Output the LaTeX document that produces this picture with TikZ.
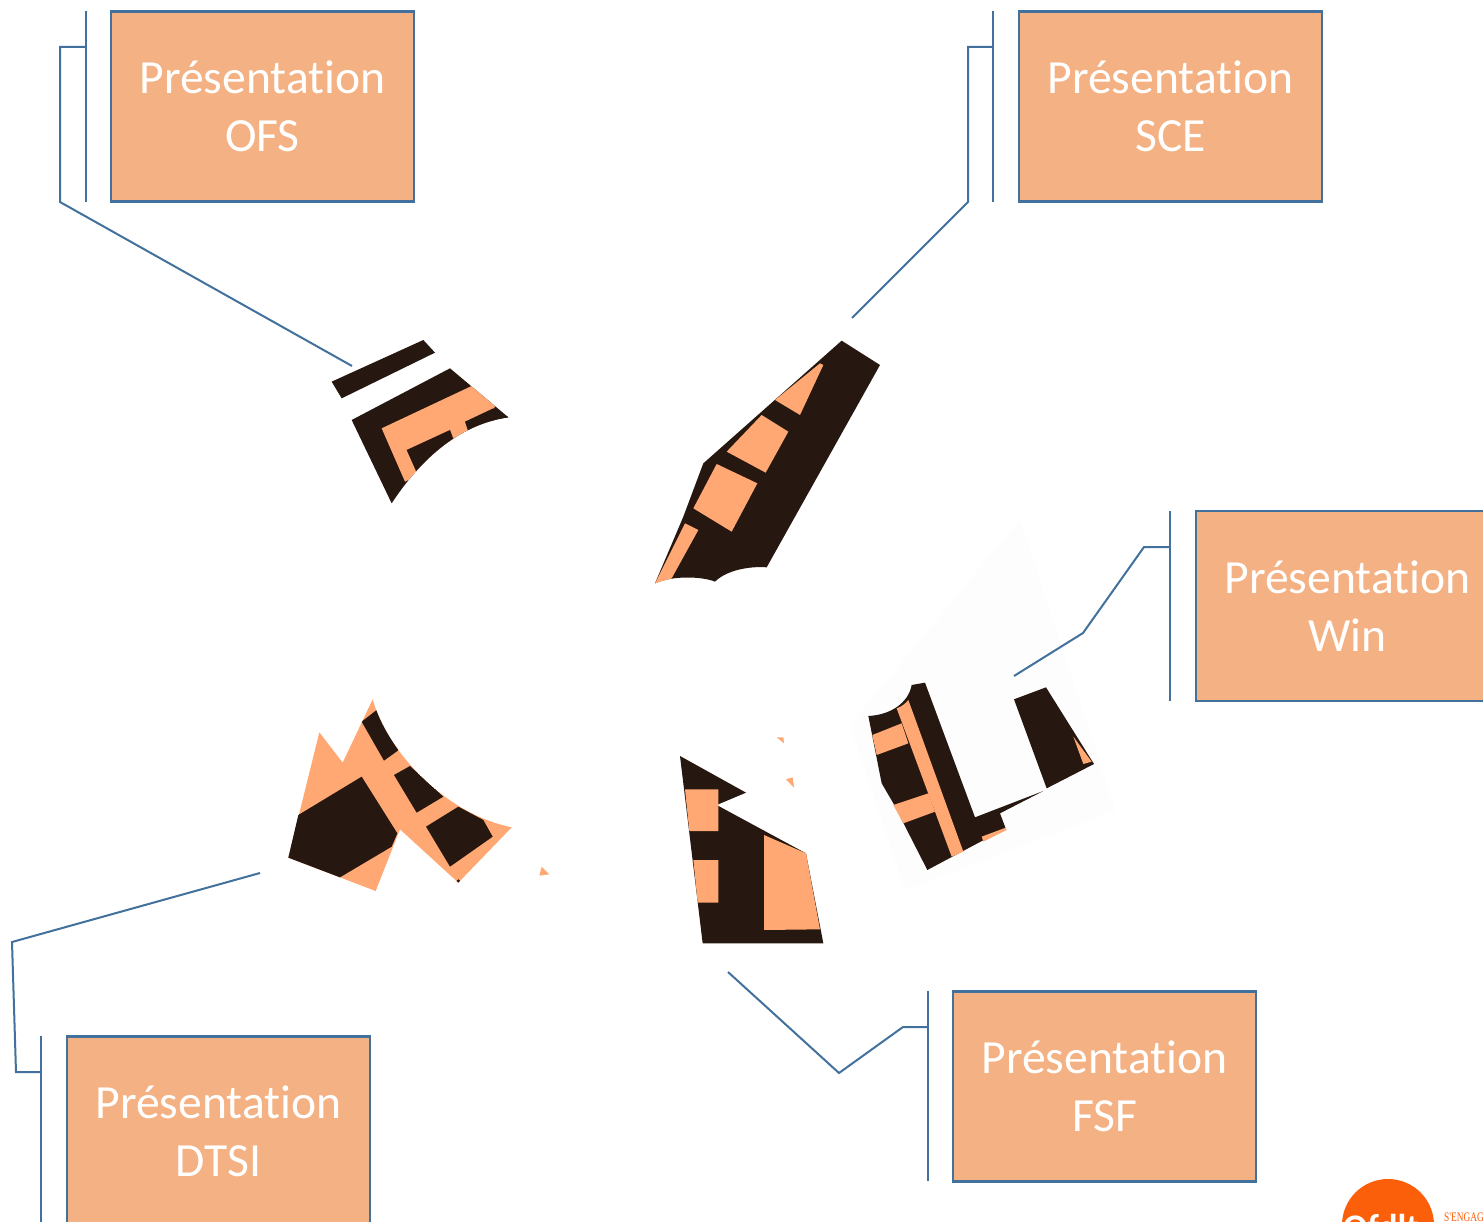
\documentclass[tikz,border=0pt]{standalone}
\usepackage{fontspec}
\setmainfont{Carlito}[Ligatures=NoCommon]
\newfontfamily\logofont{Liberation Serif}
\definecolor{linecol}{HTML}{41719C}
\definecolor{boxfill}{HTML}{F4B183}
\definecolor{darkpic}{HTML}{261810}
\definecolor{orangepic}{HTML}{FFA873}
\definecolor{logocol}{HTML}{FC5F0A}
\definecolor{faintbg}{HTML}{FDFDFD}
\tikzset{
  slidebox/.style={draw=linecol,line width=2.2pt,fill=boxfill,minimum width=303pt,minimum height=190pt,inner sep=0pt,
    text=white,align=center,font=\fontsize{47.6}{57.5}\selectfont},
  callout/.style={draw=linecol,line width=2pt,line join=miter},
  dk/.style={fill=darkpic},
  og/.style={fill=orangepic},
  faint/.style={fill=faintbg},
  zoomA/.style={shift={(280,280)},scale=0.33333},
  zoomB/.style={shift={(620,320)},scale=0.33333},
  zoomC/.style={shift={(840,660)},scale=0.33333},
  zoomD/.style={shift={(650,720)},scale=0.33333},
  zoomE/.style={shift={(270,690)},scale=0.33333},
}
\begin{document}
\begin{tikzpicture}[x=1pt,y=-1pt]
\useasboundingbox (0,0) rectangle (1483,1222);
\clip (0,0) rectangle (1483,1222);
\fill[white] (0,0) rectangle (1483,1222);
% faint halo of the Win picture
\fill[faint] (850,725) -- (1020,520) -- (1115,810) -- (905,890) -- cycle;
% OFS picture
\begin{scope}[zoomA]
  \fill[dk] (155,305) -- (430,180) -- (465,218) -- (185,355) -- cycle;
  \fill[dk] (215,420) -- (510,265) -- (685,412) .. controls (560,430) and (440,510) .. (335,670) -- cycle;
  \begin{scope}
    \clip (215,420) -- (510,265) -- (685,412) .. controls (560,430) and (440,510) .. (335,670) -- cycle;
    \fill[og] (305,445) -- (575,318) -- (645,378) -- (600,500) -- (375,605) -- cycle;
    \fill[dk] (380,510) -- (510,450) -- (525,490) -- (420,600) -- cycle;
    \fill[dk] (555,425) -- (640,385) -- (700,420) -- (570,470) -- cycle;
  \end{scope}
\end{scope}
% SCE picture
\begin{scope}[zoomB]
  \fill[dk] (665,62) -- (780,135) -- (440,742) .. controls (390,738) and (320,750) .. (285,785)
     .. controls (250,770) and (160,765) .. (105,790) -- (190,590) -- (250,430) -- cycle;
  \fill[og] (610,135) -- (540,285) -- (465,240) -- (600,130) -- cycle;
  \fill[og] (425,285) -- (505,335) -- (437,458) -- (320,395) -- cycle;
  \fill[og] (290,432) -- (412,490) -- (335,635) -- (220,565) -- cycle;
  \fill[og] (195,610) -- (235,630) -- (155,775) -- (105,790) -- cycle;
\end{scope}
% Win picture
\begin{scope}[zoomC]
  \fill[dk] (85,168) .. controls (150,165) and (205,130) .. (215,75) -- (255,68) -- (405,472) -- (610,393) -- (480,460) -- (497,505) -- (262,630) -- (160,430) -- (125,370) -- cycle;
  \fill[dk] (522,118) -- (618,82) -- (762,312) -- (620,385) -- cycle;
  \fill[og] (700,230) -- (755,305) -- (730,312) -- cycle;
  \fill[og] (205,120) -- (370,575) -- (335,590) -- (170,145) .. controls (185,140) and (197,130) .. (205,120) -- cycle;
  \fill[og] (97,225) -- (185,190) -- (205,250) -- (110,285) -- cycle;
  \fill[og] (160,435) -- (265,400) -- (285,455) -- (190,490) -- cycle;
  \fill[og] (425,530) -- (497,503) -- (500,510) -- (430,545) -- cycle;
\end{scope}
% FSF picture
\begin{scope}[zoomD]
  \fill[dk] (90,108) -- (288,218) -- (200,255) -- (468,400) -- (520,670) -- (158,670) -- cycle;
  \fill[og] (105,208) -- (205,208) -- (205,333) -- (118,333) -- cycle;
  \fill[og] (130,420) -- (205,420) -- (205,548) -- (143,548) -- cycle;
  \fill[og] (342,345) -- (468,400) -- (510,628) -- (342,630) -- cycle;
  \fill[og] (380,52) -- (400,52) -- (402,70) -- cycle;
  \fill[og] (408,178) -- (428,172) -- (432,203) -- cycle;
\end{scope}
% DTSI picture
\begin{scope}[zoomE]
  \fill[og] (308,28) .. controls (350,180) and (520,370) .. (725,412) -- (565,578) -- (390,418) -- (317,603) -- (55,503) -- (148,127) -- (218,218) -- cycle;
  \fill[dk] (85,375) -- (275,260) -- (382,430) -- (365,470) -- (210,562) -- (55,503) -- cycle;
  \begin{scope}
    \clip (308,28) .. controls (350,180) and (520,370) .. (725,412) -- (565,578) -- (390,418) -- (218,218) -- cycle;
    \fill[dk] (275,95) -- (320,60) -- (400,170) -- (342,212) -- cycle;
    \fill[dk] (372,255) -- (420,228) -- (520,320) -- (440,368) -- cycle;
    \fill[dk] (468,410) -- (565,350) -- (640,390) -- (668,440) -- (540,530) -- cycle;
    \fill[dk] (555,578) -- (565,568) -- (578,578) -- cycle;
  \end{scope}
  \fill[og] (808,557) -- (838,553) -- (815,530) -- cycle;
\end{scope}
% boxes
\node[slidebox] (ofs) at (262.5,106.5) {Présentation\\OFS};
\node[slidebox] (sce) at (1170.5,106.5) {Présentation\\SCE};
\node[slidebox] (win) at (1347.5,606) {Présentation\\Win};
\node[slidebox] (dtsi) at (218.5,1131.5) {Présentation\\DTSI};
\node[slidebox] (fsf) at (1104.5,1086.5) {Présentation\\FSF};
% callout anchor coordinates
\coordinate (ofsBarT) at (86,11);   \coordinate (ofsBarB) at (86,202);
\coordinate (ofsA) at (86,47);      \coordinate (ofsB) at (60,47);
\coordinate (ofsC) at (60,202);     \coordinate (ofsD) at (352,366);
\coordinate (sceBarT) at (993,11);  \coordinate (sceBarB) at (993,202);
\coordinate (sceA) at (993,47);     \coordinate (sceB) at (968,47);
\coordinate (sceC) at (968,202);    \coordinate (sceD) at (852,318);
\coordinate (winBarT) at (1170,511);\coordinate (winBarB) at (1170,701);
\coordinate (winA) at (1170,547);   \coordinate (winB) at (1144,547);
\coordinate (winC) at (1083,633);   \coordinate (winD) at (1014,676);
\coordinate (fsfBarT) at (928,991); \coordinate (fsfBarB) at (928,1181);
\coordinate (fsfA) at (928,1027);   \coordinate (fsfB) at (903,1027);
\coordinate (fsfC) at (839,1073);   \coordinate (fsfD) at (728,972);
\coordinate (dtsiBarT) at (41,1036);\coordinate (dtsiBarB) at (41,1227);
\coordinate (dtsiA) at (41,1072);   \coordinate (dtsiB) at (16,1072);
\coordinate (dtsiC) at (12,942);    \coordinate (dtsiD) at (260,873);
% callouts
\draw[callout] (ofsBarT) -- (ofsBarB);
\draw[callout] (ofsA) -- (ofsB) -- (ofsC) -- (ofsD);
\draw[callout] (sceBarT) -- (sceBarB);
\draw[callout] (sceA) -- (sceB) -- (sceC) -- (sceD);
\draw[callout] (winBarT) -- (winBarB);
\draw[callout] (winA) -- (winB) -- (winC) -- (winD);
\draw[callout] (fsfBarT) -- (fsfBarB);
\draw[callout] (fsfA) -- (fsfB) -- (fsfC) -- (fsfD);
\draw[callout] (dtsiBarT) -- (dtsiBarB);
\draw[callout] (dtsiA) -- (dtsiB) -- (dtsiC) -- (dtsiD);
% logo, cut by the page edge
\node[circle,fill=logocol,minimum size=92pt,inner sep=0pt] (logo) at (1388,1225) {};
\node[text=white,font=\bfseries\fontsize{36}{36}\selectfont,anchor=base] (logotext) at (1386,1239) {Ofdlt:};
\node[text=logocol,font=\logofont\fontsize{13}{13}\selectfont,anchor=base west,xscale=0.72,inner sep=0pt] (logotag) at (1444,1221) {S'ENGAG};
\end{tikzpicture}
\end{document}
